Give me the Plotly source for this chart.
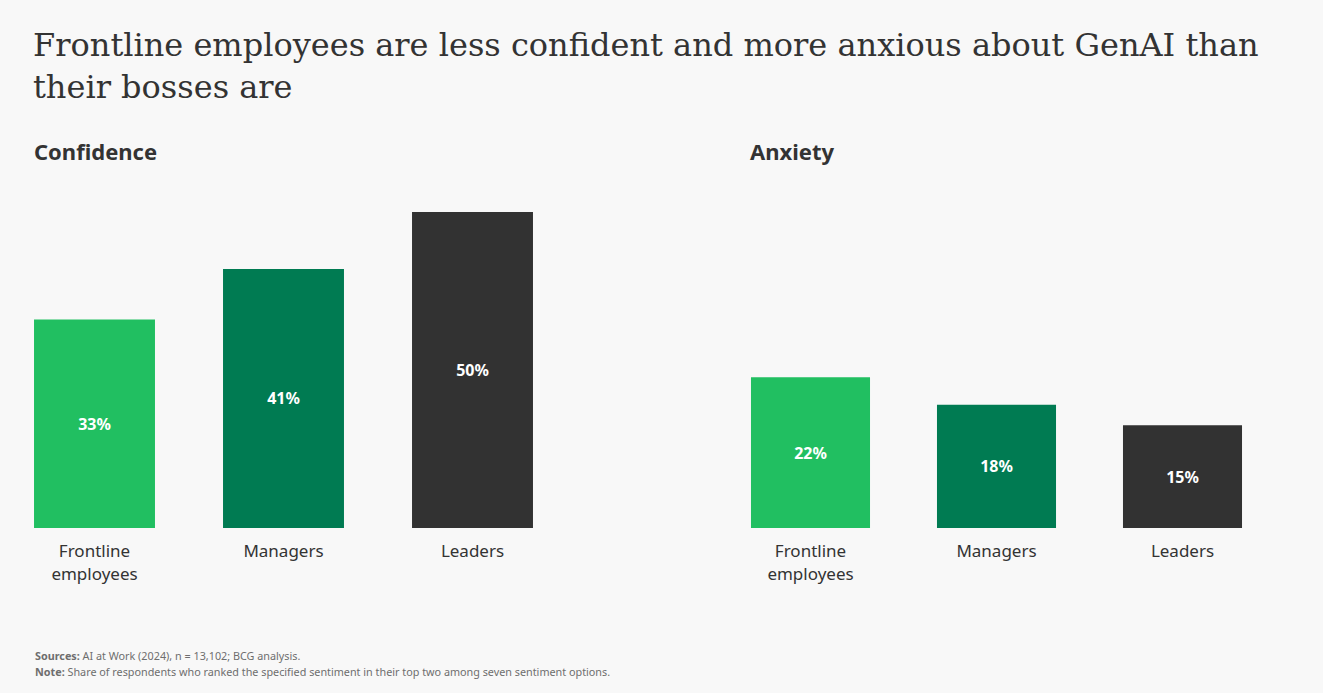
import plotly.graph_objects as go

W, H = 1323, 693

categories = ["Frontline<br>employees", "Managers", "Leaders"]
confidence = [33, 41, 50]
anxiety = [22, 18, 15]
colors = ["#21BF61", "#007B52", "#323232"]

title_text = "Frontline employees are less confident and more anxious about GenAI than<br>their bosses are"
sources = "<b>Sources:</b> AI at Work (2024), n = 13,102; BCG analysis."
note = "<b>Note:</b> Share of respondents who ranked the specified sentiment in their top two among seven sentiment options."

BG = "#F8F8F8"
TXT = "#333333"
SANS = "Noto Sans"

def px_x(p):
    return p / W

def px_y(p):
    return 1 - p / H

fig = go.Figure()

fig.add_trace(go.Bar(
    x=categories, y=confidence, marker=dict(color=colors, line=dict(width=0)),
    text=[f"{v}%" for v in confidence], textposition="inside", insidetextanchor="middle",
    textfont=dict(family=SANS, size=16, color="white", weight="bold"),
    xaxis="x", yaxis="y", hoverinfo="skip", showlegend=False,
))
fig.add_trace(go.Bar(
    x=categories, y=anxiety, marker=dict(color=colors, line=dict(width=0)),
    text=[f"{v}%" for v in anxiety], textposition="inside", insidetextanchor="middle",
    textfont=dict(family=SANS, size=16, color="white", weight="bold"),
    xaxis="x2", yaxis="y2", hoverinfo="skip", showlegend=False,
))

base = 528
left_top = base - 50 * 6.32
right_top = base - 50 * 6.85

common_x = dict(type="category", range=[-0.5, 2.5], showgrid=False, zeroline=False,
                showline=False, ticks="outside", ticklen=8, tickcolor="rgba(0,0,0,0)",
                tickfont=dict(family=SANS, size=17, color=TXT))
common_y = dict(range=[0, 50], showgrid=False, zeroline=False, showline=False,
                showticklabels=False, ticks="")

fig.update_layout(
    width=W, height=H,
    margin=dict(l=0, r=0, t=0, b=0),
    paper_bgcolor=BG, plot_bgcolor=BG,
    bargap=0.36,
    xaxis=dict(domain=[px_x(0), px_x(567)], anchor="y", **common_x),
    yaxis=dict(domain=[px_y(base), px_y(left_top)], anchor="x", **common_y),
    xaxis2=dict(domain=[px_x(717.5), px_x(1275.5)], anchor="y2", **common_x),
    yaxis2=dict(domain=[px_y(base), px_y(right_top)], anchor="x2", **common_y),
    annotations=[
        dict(text=title_text, x=px_x(31), y=px_y(24), xref="paper", yref="paper",
             xanchor="left", yanchor="top", showarrow=False, align="left",
             font=dict(family="DejaVu Serif", size=32, color=TXT)),
        dict(text="<b>Confidence</b>", x=px_x(32), y=px_y(151), xref="paper", yref="paper",
             xanchor="left", yanchor="middle", showarrow=False,
             font=dict(family=SANS, size=22, color=TXT)),
        dict(text="<b>Anxiety</b>", x=px_x(748), y=px_y(151), xref="paper", yref="paper",
             xanchor="left", yanchor="middle", showarrow=False,
             font=dict(family=SANS, size=22, color=TXT)),
        dict(text=sources, x=px_x(33), y=px_y(655), xref="paper", yref="paper",
             xanchor="left", yanchor="middle", showarrow=False,
             font=dict(family=SANS, size=10.8, color="#6E6E6E")),
        dict(text=note, x=px_x(33), y=px_y(671), xref="paper", yref="paper",
             xanchor="left", yanchor="middle", showarrow=False,
             font=dict(family=SANS, size=10.8, color="#6E6E6E")),
    ],
)

fig.write_html(
    "out.html",
    config={"displayModeBar": False},
    post_script="document.body.style.margin='0';document.body.style.background='#F8F8F8';document.body.style.overflow='hidden';",
)
